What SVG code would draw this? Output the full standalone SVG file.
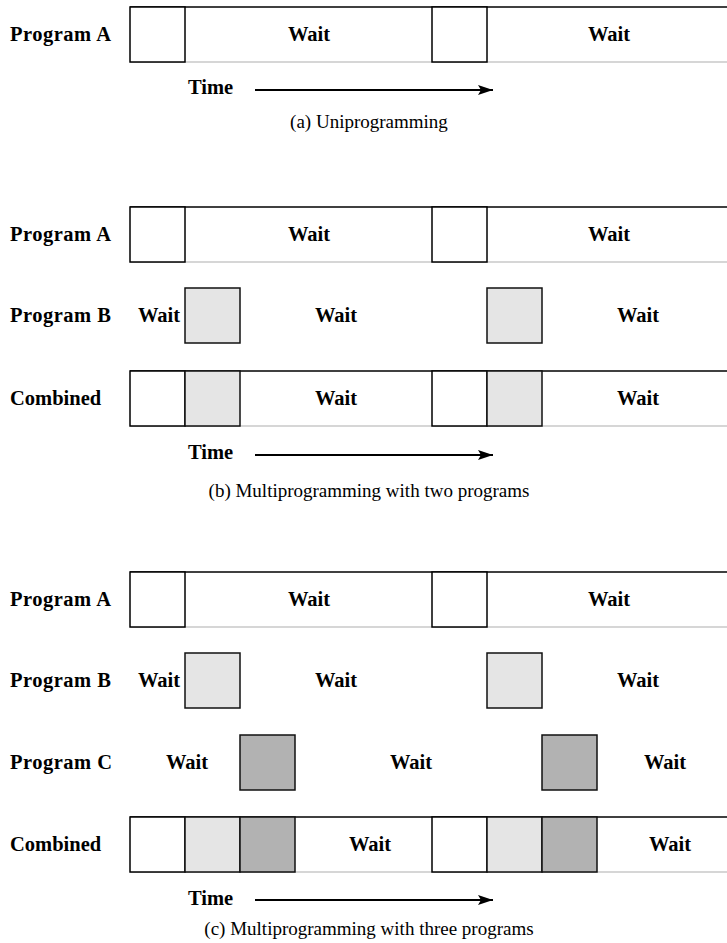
<svg xmlns="http://www.w3.org/2000/svg" width="727" height="943" viewBox="0 0 727 943" font-family="Liberation Serif, Times New Roman, Times, serif">
<style>
text{font-family:'Liberation Serif','Times New Roman',serif;fill:#000}
.lbl{font-weight:bold;font-size:20.5px}
.w{font-weight:bold;font-size:20.5px;text-anchor:middle}
.cap{font-weight:normal;font-size:19px;text-anchor:middle}
.run{fill:#fff;stroke:#000;stroke-width:1.5}
.lg{fill:#e5e5e5;stroke:#111;stroke-width:1.5}
.dg{fill:#b2b2b2;stroke:#111;stroke-width:1.5}
.top{stroke:#000;stroke-width:1.5}
.bot{stroke:#c8c8c8;stroke-width:1.5}
.arr{stroke:#000;stroke-width:2.2;fill:none}
</style>
<defs>
<marker id="ah" markerWidth="16" markerHeight="10" refX="15" refY="5" orient="auto" markerUnits="userSpaceOnUse">
<path d="M0,0 L15,5 L0,10 L3,5 Z" fill="#000"/>
</marker>
<g id="stripBase">
<rect x="130" y="0" width="600" height="55" fill="#fff"/>
<line class="top" x1="130" y1="0" x2="730" y2="0"/>
<line class="bot" x1="130" y1="55" x2="730" y2="55"/>
</g>
</defs>

<!-- (a) Uniprogramming -->
<g id="a-programA">
<text class="lbl" x="10" y="40.5" textLength="101" lengthAdjust="spacing">Program A</text>
<use href="#stripBase" x="0" y="7"/>
<rect class="run" x="130" y="7" width="55" height="55"/>
<rect class="run" x="432" y="7" width="55" height="55"/>
<text class="w" x="309" y="41">Wait</text>
<text class="w" x="609" y="41">Wait</text>
</g>
<g id="a-time"><text class="lbl" x="188" y="94">Time</text></g>
<g id="a-caption"><text class="cap" x="369" y="128">(a) Uniprogramming</text></g>

<!-- (b) two programs -->
<g id="b-programA">
<text class="lbl" x="10" y="241" textLength="101" lengthAdjust="spacing">Program A</text>
<use href="#stripBase" x="0" y="207"/>
<rect class="run" x="130" y="207" width="55" height="55"/>
<rect class="run" x="432" y="207" width="55" height="55"/>
<text class="w" x="309" y="241">Wait</text>
<text class="w" x="609" y="241">Wait</text>
</g>
<g id="b-programB">
<text class="lbl" x="10" y="322" textLength="101" lengthAdjust="spacing">Program B</text>
<text class="w" x="159" y="322">Wait</text>
<rect class="lg" x="185" y="288" width="55" height="55"/>
<text class="w" x="336" y="322">Wait</text>
<rect class="lg" x="487" y="288" width="55" height="55"/>
<text class="w" x="638" y="322">Wait</text>
</g>
<g id="b-combined">
<text class="lbl" x="10" y="405">Combined</text>
<use href="#stripBase" x="0" y="371"/>
<rect class="run" x="130" y="371" width="55" height="55"/>
<rect class="lg" x="185" y="371" width="55" height="55"/>
<rect class="run" x="432" y="371" width="55" height="55"/>
<rect class="lg" x="487" y="371" width="55" height="55"/>
<text class="w" x="336" y="405">Wait</text>
<text class="w" x="638" y="405">Wait</text>
</g>
<g id="b-time"><text class="lbl" x="188" y="459">Time</text></g>
<g id="b-caption"><text class="cap" x="369" y="497">(b) Multiprogramming with two programs</text></g>

<!-- (c) three programs -->
<g id="c-programA">
<text class="lbl" x="10" y="606" textLength="101" lengthAdjust="spacing">Program A</text>
<use href="#stripBase" x="0" y="572"/>
<rect class="run" x="130" y="572" width="55" height="55"/>
<rect class="run" x="432" y="572" width="55" height="55"/>
<text class="w" x="309" y="606">Wait</text>
<text class="w" x="609" y="606">Wait</text>
</g>
<g id="c-programB">
<text class="lbl" x="10" y="687" textLength="101" lengthAdjust="spacing">Program B</text>
<text class="w" x="159" y="687">Wait</text>
<rect class="lg" x="185" y="653" width="55" height="55"/>
<text class="w" x="336" y="687">Wait</text>
<rect class="lg" x="487" y="653" width="55" height="55"/>
<text class="w" x="638" y="687">Wait</text>
</g>
<g id="c-programC">
<text class="lbl" x="10" y="769" textLength="102" lengthAdjust="spacing">Program C</text>
<text class="w" x="187" y="769">Wait</text>
<rect class="dg" x="240" y="735" width="55" height="55"/>
<text class="w" x="411" y="769">Wait</text>
<rect class="dg" x="542" y="735" width="55" height="55"/>
<text class="w" x="665" y="769">Wait</text>
</g>
<g id="c-combined">
<text class="lbl" x="10" y="851">Combined</text>
<use href="#stripBase" x="0" y="817"/>
<rect class="run" x="130" y="817" width="55" height="55"/>
<rect class="lg" x="185" y="817" width="55" height="55"/>
<rect class="dg" x="240" y="817" width="55" height="55"/>
<rect class="run" x="432" y="817" width="55" height="55"/>
<rect class="lg" x="487" y="817" width="55" height="55"/>
<rect class="dg" x="542" y="817" width="55" height="55"/>
<text class="w" x="370" y="851">Wait</text>
<text class="w" x="670" y="851">Wait</text>
</g>
<g id="c-time"><text class="lbl" x="188" y="905">Time</text></g>
<g id="c-caption"><text class="cap" x="369" y="935">(c) Multiprogramming with three programs</text></g>

<g id="connectors">
<line class="arr" x1="255" y1="90" x2="493" y2="90" marker-end="url(#ah)"/>
<line class="arr" x1="255" y1="455" x2="493" y2="455" marker-end="url(#ah)"/>
<line class="arr" x1="255" y1="900" x2="493" y2="900" marker-end="url(#ah)"/>
</g>
</svg>
